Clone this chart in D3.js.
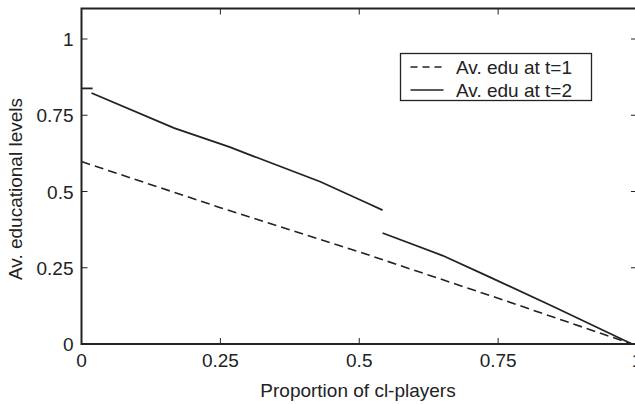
<!DOCTYPE html>
<html>
<head>
<meta charset="utf-8">
<script src="https://cdn.jsdelivr.net/npm/d3@7"></script>
<style>
  body { margin: 0; background: #fff; }
  text { font-family: "Liberation Sans", Arial, sans-serif; fill: #222; }
</style>
</head>
<body>
<div id="chart"></div>
<script>
// data
var xTicks = [0, 0.25, 0.5, 0.75, 1];
var xTickLabels = ["0", "0.25", "0.5", "0.75", "1"];
var yTicks = [0, 0.25, 0.5, 0.75, 1];
var yTickLabels = ["0", "0.25", "0.5", "0.75", "1"];

// t=1, dashed
var eduT1 = [[0, 0.598], [0.25, 0.447], [0.5, 0.302], [0.75, 0.15], [0.991, 0]];
// t=2, solid, in three pieces
var eduT2a = [[0, 0.838], [0.02, 0.838]];
var eduT2b = [[0.018, 0.823], [0.167, 0.708], [0.266, 0.646], [0.43, 0.532], [0.518, 0.459], [0.542, 0.439]];
var eduT2c = [[0.542, 0.364], [0.65, 0.29], [0.734, 0.22], [0.85, 0.122], [0.991, 0]];

var legendNames = ["Av. edu at t=1", "Av. edu at t=2"];

var width = 635, height = 404;
var margin = {left: 81.5, top: 8.5, right: -2, bottom: 60};

var svg = d3.select("#chart").append("svg")
    .attr("width", width)
    .attr("height", height);

var x = d3.scaleLinear()
    .domain([0, 1])
    .range([margin.left, width - margin.right]);
var y = d3.scaleLinear()
    .domain([0, 1.1])
    .range([height - margin.bottom, margin.top]);

var ink = "#222";
var fs = 19;

// ticks (inward, on all four sides)
var tickLen = 6;
var g = svg.append("g");
xTicks.forEach(function(t) {
  g.append("line").attr("x1", x(t)).attr("x2", x(t))
    .attr("y1", y(0)).attr("y2", y(0) - tickLen)
    .attr("stroke", ink).attr("stroke-width", 1);
  g.append("line").attr("x1", x(t)).attr("x2", x(t))
    .attr("y1", y(1.1)).attr("y2", y(1.1) + tickLen)
    .attr("stroke", ink).attr("stroke-width", 1);
});
yTicks.forEach(function(t) {
  g.append("line").attr("x1", x(0)).attr("x2", x(0) + tickLen)
    .attr("y1", y(t)).attr("y2", y(t))
    .attr("stroke", ink).attr("stroke-width", 1);
  g.append("line").attr("x1", x(1)).attr("x2", x(1) - tickLen)
    .attr("y1", y(t)).attr("y2", y(t))
    .attr("stroke", ink).attr("stroke-width", 1);
});

// tick labels
g.selectAll(".xl").data(xTicks).enter().append("text")
    .attr("class", "xl")
    .attr("x", function(d) { return x(d); })
    .attr("y", y(0) + 23)
    .attr("text-anchor", "middle")
    .attr("font-size", fs)
    .text(function(d, i) { return xTickLabels[i]; });

g.selectAll(".yl").data(yTicks).enter().append("text")
    .attr("class", "yl")
    .attr("x", x(0) - 8)
    .attr("y", function(d) { return y(d) + 7; })
    .attr("text-anchor", "end")
    .attr("font-size", fs)
    .text(function(d, i) { return yTickLabels[i]; });

// lines
var line = d3.line()
    .x(function(d) { return x(d[0]); })
    .y(function(d) { return y(d[1]); });

svg.append("path").attr("d", line(eduT1))
    .attr("fill", "none").attr("stroke", ink)
    .attr("stroke-width", 1.6).attr("stroke-dasharray", "9,5");

[eduT2a, eduT2b, eduT2c].forEach(function(seg) {
  svg.append("path").attr("d", line(seg))
    .attr("fill", "none").attr("stroke", ink)
    .attr("stroke-width", 1.8);
});

// frame
svg.append("rect")
    .attr("x", x(0)).attr("y", y(1.1))
    .attr("width", x(1) - x(0)).attr("height", y(0) - y(1.1))
    .attr("fill", "none").attr("stroke", ink).attr("stroke-width", 2);

// axis titles
svg.append("text")
    .attr("x", 358).attr("y", 397)
    .attr("text-anchor", "middle")
    .attr("font-size", fs)
    .text("Proportion of cl-players");

svg.append("text")
    .attr("transform", "translate(22," + 189 + ") rotate(-90)")
    .attr("text-anchor", "middle")
    .attr("font-size", fs)
    .text("Av. educational levels");

// legend
var lg = svg.append("g").attr("transform", "translate(400.5,53.5)");
lg.append("rect").attr("width", 191).attr("height", 47)
    .attr("fill", "#fff").attr("stroke", ink).attr("stroke-width", 1.3);
legendNames.forEach(function(name, i) {
  var ly = 13.5 + i * 23;
  lg.append("line").attr("x1", 10).attr("x2", 43)
    .attr("y1", ly).attr("y2", ly)
    .attr("stroke", ink).attr("stroke-width", 1.4)
    .attr("stroke-dasharray", i === 0 ? "7,5" : null);
  lg.append("text").attr("x", 55.5).attr("y", ly + 7)
    .attr("font-size", fs)
    .text(name);
});
</script>
</body>
</html>
